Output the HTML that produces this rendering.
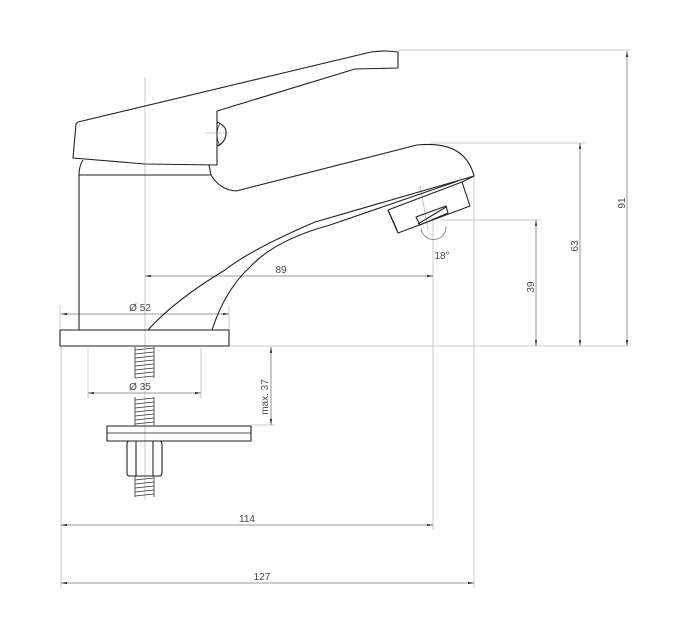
<!DOCTYPE html>
<html><head><meta charset="utf-8"><style>
html,body{margin:0;padding:0;background:#fff}
svg{display:block}
text{font-family:"Liberation Sans",sans-serif;font-size:10px;fill:#444}
</style></head><body>
<svg width="700" height="624" viewBox="0 0 700 624" xmlns="http://www.w3.org/2000/svg">
<defs>
<marker id="a" viewBox="0 0 10 4" refX="10" refY="2" markerWidth="8" markerHeight="3" orient="auto-start-reverse"><path d="M0,0 L10,2 L0,4z" fill="#333"/></marker>
</defs>
<!-- extension / center lines -->
<g stroke="#bbb" stroke-width="0.8" fill="none">
<line x1="145" y1="77" x2="145" y2="500"/>
<line x1="398" y1="50" x2="630" y2="50"/>
<line x1="430" y1="143" x2="585" y2="143"/>
<line x1="440" y1="220" x2="541" y2="220"/>
<line x1="229" y1="346" x2="630" y2="346"/>
<line x1="433" y1="218" x2="433" y2="530"/>
<line x1="474" y1="176" x2="474" y2="588"/>
<line x1="61" y1="347" x2="61" y2="588"/>
<line x1="60" y1="305" x2="60" y2="330"/>
<line x1="229" y1="305" x2="229" y2="330"/>
<line x1="88" y1="348" x2="88" y2="398"/>
<line x1="201" y1="348" x2="201" y2="398"/>
<line x1="251" y1="425" x2="275" y2="425"/>
<line x1="205" y1="133" x2="230" y2="133"/>
<line x1="420" y1="185" x2="428" y2="230"/>
</g>
<!-- dimension lines -->
<g stroke="#777" stroke-width="0.8" fill="none">
<line x1="145" y1="276" x2="433" y2="276" marker-start="url(#a)" marker-end="url(#a)"/>
<line x1="61" y1="314" x2="229" y2="314" marker-start="url(#a)" marker-end="url(#a)"/>
<line x1="88" y1="393" x2="201" y2="393" marker-start="url(#a)" marker-end="url(#a)"/>
<line x1="271" y1="347" x2="271" y2="425" marker-start="url(#a)" marker-end="url(#a)"/>
<line x1="627" y1="51" x2="627" y2="346" marker-start="url(#a)" marker-end="url(#a)"/>
<line x1="580" y1="143" x2="580" y2="346" marker-start="url(#a)" marker-end="url(#a)"/>
<line x1="536" y1="220" x2="536" y2="346" marker-start="url(#a)" marker-end="url(#a)"/>
<line x1="61" y1="525" x2="433" y2="525" marker-start="url(#a)" marker-end="url(#a)"/>
<line x1="61" y1="583" x2="474" y2="583" marker-start="url(#a)" marker-end="url(#a)"/>
<path d="M421,228 A12,12 0 0 0 446,226" />
</g>
<!-- outlines -->
<g stroke="#222" stroke-width="1.1" fill="none" stroke-linejoin="round">
<!-- handle -->
<path d="M78,122 L371,52 Q385,50 398,52 L398,68 L355,69 L217,111 L217,165 L145,164 L73,158 L76,124 Z"/>
<path d="M217,122 Q227,126 226,134 Q225,143 217,146"/>
<path d="M220,123 Q214,134 220,146" stroke-width="0.7"/>
<!-- body -->
<path d="M79,330 L79,175 Q79,166 83,160"/>
<line x1="79" y1="175" x2="211" y2="175"/>
<path d="M209,165 L211,175 Q220,190 236,191 L417,145 Q465,140 474,176 L315,222 Q250,250 225,270 Q175,300 148,330"/>
<path d="M458,181 L330,225 Q275,240 250,267 Q225,290 212,330"/>
<path d="M474,176 L462,182"/>
<!-- aerator -->
<path d="M388,210 L462,182 L470,206 L398,233 Z"/>
<line x1="389" y1="212" x2="397" y2="230"/>
<path d="M416,217 L446,206 L448,213 L420,225 Z"/>
<line x1="418" y1="224" x2="446" y2="207"/>
<!-- base plate -->
<rect x="60" y="330" width="169" height="16"/>
<!-- washer -->
<rect x="107" y="426" width="144" height="15"/>
<line x1="107" y1="433" x2="251" y2="433" stroke-width="0.8"/>
<!-- nut -->
<path d="M130,441 L159,441 Q162,441 162,444 L162,473 Q162,476 159,476 L130,476 Q127,476 127,473 L127,444 Q127,441 130,441 Z"/>
<line x1="136" y1="441" x2="136" y2="476"/>
<line x1="153" y1="441" x2="153" y2="476"/>
</g>
<!-- threads -->
<g stroke="#333" stroke-width="0.8" fill="none">
<path d="M135,347 V378 M154,347 V378 M135,397 V426 M154,397 V426 M135,476 V497 M154,476 V497"/>
<path d="M135,350 L154,348 M135,354 L154,352 M135,358 L154,356 M135,362 L154,360 M135,366 L154,364 M135,370 L154,368 M135,374 L154,372 M135,378 L154,376"/>
<path d="M135,400 L154,398 M135,404 L154,402 M135,408 L154,406 M135,412 L154,410 M135,416 L154,414 M135,420 L154,418 M135,424 L154,422"/>
<path d="M135,480 L154,478 M135,484 L154,482 M135,488 L154,486 M135,492 L154,490 M135,496 L154,494"/>
</g>
<!-- labels -->
<text x="281" y="273" text-anchor="middle">89</text>
<text x="140" y="311" text-anchor="middle">Ø 52</text>
<text x="140" y="390" text-anchor="middle">Ø 35</text>
<text x="442" y="259" text-anchor="middle">18°</text>
<text x="247" y="522" text-anchor="middle">114</text>
<text x="262" y="580" text-anchor="middle">127</text>
<text transform="translate(268,397) rotate(-90)" text-anchor="middle">max. 37</text>
<text transform="translate(625,203) rotate(-90)" text-anchor="middle">91</text>
<text transform="translate(578,246) rotate(-90)" text-anchor="middle">63</text>
<text transform="translate(534,287) rotate(-90)" text-anchor="middle">39</text>
</svg>
</body></html>
